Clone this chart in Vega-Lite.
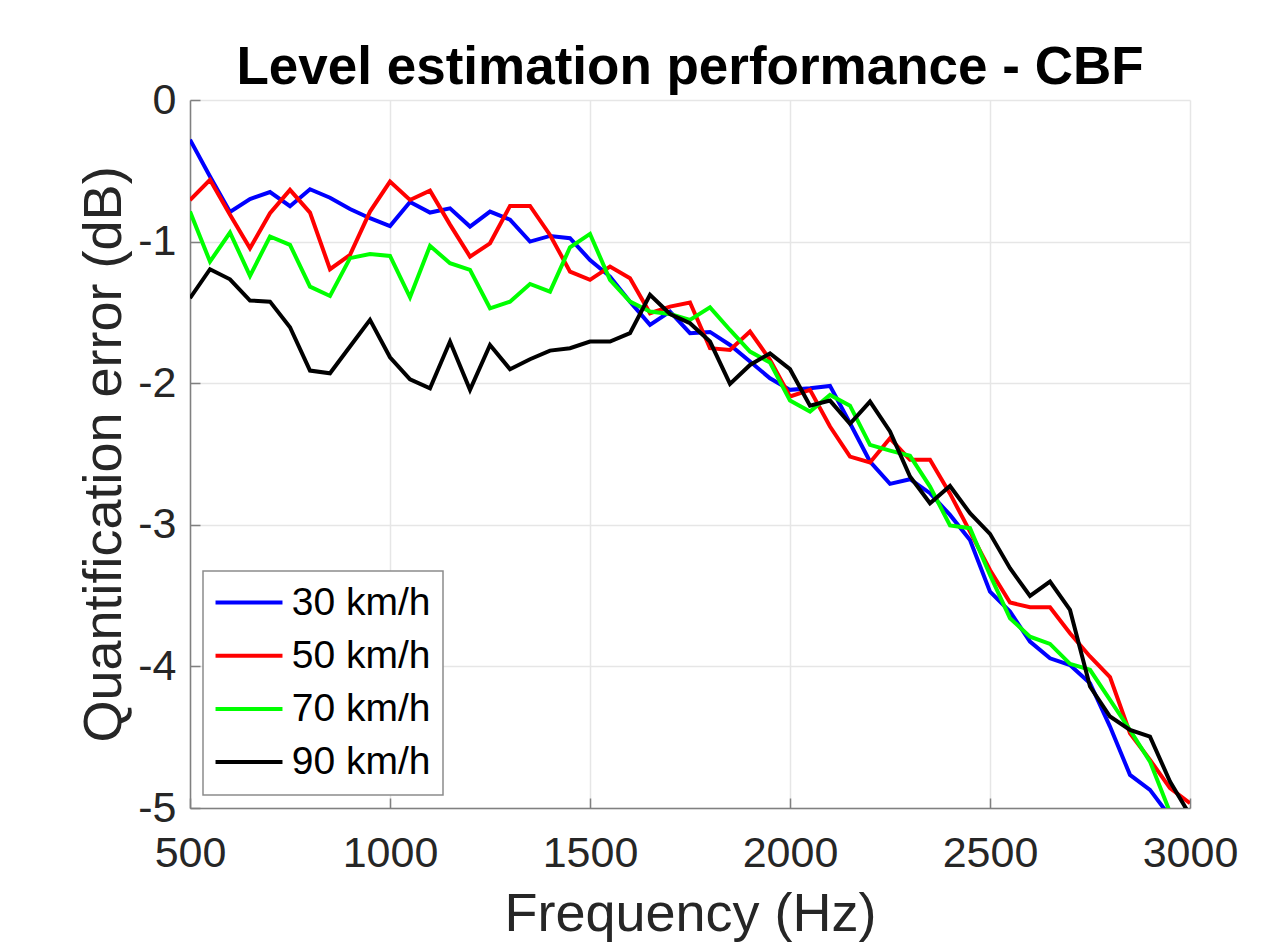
{
  "$schema": "https://vega.github.io/schema/vega-lite/v6.json",
  "width": 1000,
  "height": 708,
  "autosize": {"type": "none"},
  "padding": {"left": 190, "top": 100, "right": 95, "bottom": 138},
  "background": "white",
  "title": {"text": "Level estimation performance - CBF", "font": "Liberation Sans", "fontSize": 53, "fontWeight": "bold", "color": "black", "anchor": "middle", "baseline": "alphabetic", "offset": 14, "dy": 72},
  "datasets": {
    "s30": [
      {"f":500,"e":-0.28},{"f":550,"e":-0.54},{"f":600,"e":-0.79},{"f":650,"e":-0.70},{"f":700,"e":-0.65},{"f":750,"e":-0.75},{"f":800,"e":-0.63},{"f":850,"e":-0.69},{"f":900,"e":-0.77},{"f":950,"e":-0.835},
      {"f":1000,"e":-0.89},{"f":1050,"e":-0.72},{"f":1100,"e":-0.795},{"f":1150,"e":-0.765},{"f":1200,"e":-0.894},{"f":1250,"e":-0.788},{"f":1300,"e":-0.845},{"f":1350,"e":-1.0},{"f":1400,"e":-0.96},{"f":1450,"e":-0.976},
      {"f":1500,"e":-1.13},{"f":1550,"e":-1.247},{"f":1600,"e":-1.424},{"f":1650,"e":-1.588},{"f":1700,"e":-1.494},{"f":1750,"e":-1.647},{"f":1800,"e":-1.638},{"f":1850,"e":-1.73},{"f":1900,"e":-1.847},{"f":1950,"e":-1.965},
      {"f":2000,"e":-2.047},{"f":2050,"e":-2.035},{"f":2100,"e":-2.019},{"f":2150,"e":-2.283},{"f":2200,"e":-2.553},{"f":2250,"e":-2.711},{"f":2300,"e":-2.678},{"f":2350,"e":-2.777},{"f":2400,"e":-2.93},{"f":2450,"e":-3.107},
      {"f":2500,"e":-3.472},{"f":2550,"e":-3.613},{"f":2600,"e":-3.825},{"f":2650,"e":-3.943},{"f":2700,"e":-3.99},{"f":2750,"e":-4.119},{"f":2800,"e":-4.425},{"f":2850,"e":-4.766},{"f":2900,"e":-4.872},{"f":2950,"e":-5.06}
    ],
    "s50": [
      {"f":500,"e":-0.706},{"f":550,"e":-0.564},{"f":600,"e":-0.811},{"f":650,"e":-1.047},{"f":700,"e":-0.80},{"f":750,"e":-0.635},{"f":800,"e":-0.795},{"f":850,"e":-1.195},{"f":900,"e":-1.094},{"f":950,"e":-0.788},
      {"f":1000,"e":-0.576},{"f":1050,"e":-0.706},{"f":1100,"e":-0.64},{"f":1150,"e":-0.88},{"f":1200,"e":-1.106},{"f":1250,"e":-1.012},{"f":1300,"e":-0.748},{"f":1350,"e":-0.748},{"f":1400,"e":-0.953},{"f":1450,"e":-1.212},
      {"f":1500,"e":-1.27},{"f":1550,"e":-1.176},{"f":1600,"e":-1.259},{"f":1650,"e":-1.506},{"f":1700,"e":-1.459},{"f":1750,"e":-1.43},{"f":1800,"e":-1.753},{"f":1850,"e":-1.765},{"f":1900,"e":-1.635},{"f":1950,"e":-1.835},
      {"f":2000,"e":-2.094},{"f":2050,"e":-2.047},{"f":2100,"e":-2.306},{"f":2150,"e":-2.518},{"f":2200,"e":-2.56},{"f":2250,"e":-2.389},{"f":2300,"e":-2.541},{"f":2350,"e":-2.541},{"f":2400,"e":-2.78},{"f":2450,"e":-3.048},
      {"f":2500,"e":-3.319},{"f":2550,"e":-3.549},{"f":2600,"e":-3.582},{"f":2650,"e":-3.582},{"f":2700,"e":-3.766},{"f":2750,"e":-3.93},{"f":2800,"e":-4.076},{"f":2850,"e":-4.472},{"f":2900,"e":-4.66},{"f":2950,"e":-4.86},{"f":3000,"e":-4.966}
    ],
    "s70": [
      {"f":500,"e":-0.788},{"f":550,"e":-1.141},{"f":600,"e":-0.936},{"f":650,"e":-1.242},{"f":700,"e":-0.964},{"f":750,"e":-1.023},{"f":800,"e":-1.318},{"f":850,"e":-1.384},{"f":900,"e":-1.117},{"f":950,"e":-1.087},
      {"f":1000,"e":-1.101},{"f":1050,"e":-1.393},{"f":1100,"e":-1.03},{"f":1150,"e":-1.153},{"f":1200,"e":-1.2},{"f":1250,"e":-1.471},{"f":1300,"e":-1.424},{"f":1350,"e":-1.299},{"f":1400,"e":-1.353},{"f":1450,"e":-1.04},
      {"f":1500,"e":-0.946},{"f":1550,"e":-1.27},{"f":1600,"e":-1.424},{"f":1650,"e":-1.494},{"f":1700,"e":-1.511},{"f":1750,"e":-1.553},{"f":1800,"e":-1.464},{"f":1850,"e":-1.624},{"f":1900,"e":-1.777},{"f":1950,"e":-1.854},
      {"f":2000,"e":-2.123},{"f":2050,"e":-2.2},{"f":2100,"e":-2.083},{"f":2150,"e":-2.159},{"f":2200,"e":-2.436},{"f":2250,"e":-2.476},{"f":2300,"e":-2.513},{"f":2350,"e":-2.73},{"f":2400,"e":-3.005},{"f":2450,"e":-3.024},
      {"f":2500,"e":-3.354},{"f":2550,"e":-3.66},{"f":2600,"e":-3.79},{"f":2650,"e":-3.841},{"f":2700,"e":-3.982},{"f":2750,"e":-4.024},{"f":2800,"e":-4.237},{"f":2850,"e":-4.449},{"f":2900,"e":-4.672},{"f":2950,"e":-5.03}
    ],
    "s90": [
      {"f":500,"e":-1.40},{"f":550,"e":-1.195},{"f":600,"e":-1.266},{"f":650,"e":-1.416},{"f":700,"e":-1.424},{"f":750,"e":-1.605},{"f":800,"e":-1.911},{"f":850,"e":-1.93},{"f":900,"e":-1.741},{"f":950,"e":-1.553},
      {"f":1000,"e":-1.817},{"f":1050,"e":-1.972},{"f":1100,"e":-2.036},{"f":1150,"e":-1.706},{"f":1200,"e":-2.047},{"f":1250,"e":-1.73},{"f":1300,"e":-1.901},{"f":1350,"e":-1.831},{"f":1400,"e":-1.77},{"f":1450,"e":-1.753},
      {"f":1500,"e":-1.706},{"f":1550,"e":-1.706},{"f":1600,"e":-1.647},{"f":1650,"e":-1.376},{"f":1700,"e":-1.511},{"f":1750,"e":-1.576},{"f":1800,"e":-1.706},{"f":1850,"e":-2.005},{"f":1900,"e":-1.871},{"f":1950,"e":-1.789},
      {"f":2000,"e":-1.901},{"f":2050,"e":-2.159},{"f":2100,"e":-2.123},{"f":2150,"e":-2.287},{"f":2200,"e":-2.13},{"f":2250,"e":-2.341},{"f":2300,"e":-2.659},{"f":2350,"e":-2.848},{"f":2400,"e":-2.726},{"f":2450,"e":-2.918},
      {"f":2500,"e":-3.064},{"f":2550,"e":-3.307},{"f":2600,"e":-3.502},{"f":2650,"e":-3.401},{"f":2700,"e":-3.601},{"f":2750,"e":-4.142},{"f":2800,"e":-4.354},{"f":2850,"e":-4.449},{"f":2900,"e":-4.496},{"f":2950,"e":-4.813},{"f":3000,"e":-5.05}
    ]
  },
  "layer": [
    {
      "data": {"name": "s30"},
      "transform": [{"calculate": "'30 km/h'", "as": "speed"}],
      "mark": {"type": "line", "strokeWidth": 4, "clip": true}
    },
    {
      "data": {"name": "s50"},
      "transform": [{"calculate": "'50 km/h'", "as": "speed"}],
      "mark": {"type": "line", "strokeWidth": 4, "clip": true}
    },
    {
      "data": {"name": "s70"},
      "transform": [{"calculate": "'70 km/h'", "as": "speed"}],
      "mark": {"type": "line", "strokeWidth": 4, "clip": true}
    },
    {
      "data": {"name": "s90"},
      "transform": [{"calculate": "'90 km/h'", "as": "speed"}],
      "mark": {"type": "line", "strokeWidth": 4, "clip": true}
    }
  ],
  "encoding": {
    "x": {"field": "f", "type": "quantitative", "scale": {"domain": [500, 3000], "nice": false, "zero": false},
      "axis": {"values": [500, 1000, 1500, 2000, 2500, 3000], "labelExpr": "'' + datum.value", "title": "Frequency (Hz)", "labelPadding": 34, "titlePadding": 12}},
    "y": {"field": "e", "type": "quantitative", "scale": {"domain": [-5, 0], "nice": false, "zero": false},
      "axis": {"values": [0, -1, -2, -3, -4, -5], "labelExpr": "'' + datum.value", "title": "Quantification error (dB)", "labelPadding": 24, "titlePadding": 6}},
    "color": {"field": "speed", "type": "nominal",
      "scale": {"domain": ["30 km/h", "50 km/h", "70 km/h", "90 km/h"], "range": ["#0000ff", "#ff0000", "#00ff00", "#000000"]},
      "legend": {"orient": "none", "legendX": 13, "legendY": 471, "title": null}}
  },
  "config": {
    "view": {"stroke": null},
    "axis": {
      "domainColor": "#808080", "domainWidth": 1.5,
      "tickColor": "#808080", "tickSize": -10, "tickWidth": 1.5,
      "gridColor": "#e6e6e6", "gridWidth": 1.5,
      "labelFont": "Liberation Sans", "labelFontSize": 43, "labelColor": "#262626",
      "titleFont": "Liberation Sans", "titleFontSize": 54, "titleFontWeight": "normal", "titleColor": "#262626",
      "labelFlush": false, "labelOverlap": false
    },
    "legend": {
      "fillColor": "white", "strokeColor": "#8c8c8c", "strokeWidth": 1.5, "padding": 12,
      "labelFont": "Liberation Sans", "labelFontSize": 39, "labelColor": "#000000", "labelOffset": 37.7,
      "symbolType": "M-1.7,0H4.3", "symbolSize": 498, "symbolStrokeWidth": 4, "rowPadding": 13.2, "labelLimit": 400
    }
  }
}
